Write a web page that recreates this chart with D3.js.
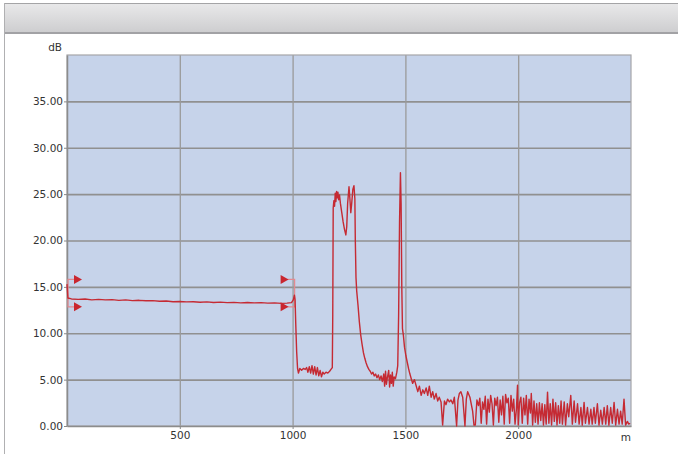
<!DOCTYPE html>
<html>
<head>
<meta charset="utf-8">
<script src="https://d3js.org/d3.v7.min.js"></script>
<style>
  body { margin: 0; background: #fff; }
  text { font-family: "DejaVu Sans", Verdana, sans-serif; }
</style>
</head>
<body>
<div id="trace_chart"></div>
<script>
// trace data: [distance m, loss dB]
var fiberRun = [[0,15.3],[4,13.8],[20,13.7],[50,13.65],[80,13.7],[110,13.6],[140,13.65],[170,13.6],[200,13.62],
  [230,13.55],[260,13.6],[290,13.52],[320,13.55],[350,13.5],[380,13.52],[410,13.45],[440,13.48],[470,13.4],
  [500,13.42],[530,13.38],[560,13.4],[590,13.35],[620,13.38],[650,13.32],[680,13.36],[710,13.3],[740,13.33],
  [770,13.28],[800,13.32],[830,13.27],[860,13.3],[890,13.25],[920,13.28],[950,13.22],[975,13.25],[995,13.3],
  [1003,13.6],[1008,14.1],[1011,13.6],[1014,11],[1018,8],[1022,6.2]]
var firstGap = [[1026,5.7],[1032,6.2],[1040,6.0],[1048,6.2],[1056,6.1],[1062,6.3],[1068,5.8],[1074,6.4],
  [1080,5.7],[1086,6.5],[1092,5.6],[1098,6.4],[1104,5.5],[1110,6.3],[1116,5.4],[1122,6.0],[1128,5.3],
  [1134,5.8],[1140,5.6],[1148,5.8],[1156,5.7],[1164,5.9],[1170,6.1],[1176,6.3]]
var firstPeak = [[1178,12],[1180,23.5],[1183,24.3],[1186,23.7],[1189,25.1],[1192,24.2],[1195,25.3],[1198,24.6],
  [1201,25.2],[1204,24.4],[1208,24.9],[1212,24.0],[1218,23.0],[1224,22.0],[1230,21.2],[1236,20.6],[1240,21.5],
  [1244,24.0],[1250,25.8],[1254,24.5],[1258,23.0],[1262,24.0],[1267,25.5],[1272,25.9],[1276,24.5],[1278,20],
  [1281,16],[1284,14.6],[1290,13.0],[1296,11.2],[1302,9.8],[1308,8.8],[1314,7.9],[1320,7.3],[1326,6.8],
  [1332,6.4],[1338,6.1],[1344,5.9]]
var secondGap = [[1350,5.6],[1356,5.8],[1362,5.4],[1368,5.6],[1374,5.2],[1380,5.5],[1386,5.0],[1392,5.4],
  [1398,4.8],[1404,5.6],[1408,4.3],[1412,5.9],[1416,4.5],[1420,5.2],[1426,6.0],[1430,4.2],[1434,5.5],
  [1438,4.6],[1442,5.8],[1446,4.3],[1450,5.3],[1456,5.1],[1462,5.8],[1466,6.5],[1470,12],[1474,22],
  [1478,27.3],[1481,24],[1484,15],[1487,10.5],[1491,9.8],[1496,8.5],[1502,7.6],[1508,6.9],[1514,6.2],
  [1520,5.6],[1526,5.1],[1532,4.6]]
var tailNoise = [[1540,5.0],[1547,4.4],[1555,3.7],[1562,4.3],[1570,3.3],[1577,3.9],[1584,3.5],[1592,4.1],
  [1599,3.3],[1606,4.3],[1614,3.1],[1621,3.7],[1628,2.9],[1636,3.5],[1643,2.7],[1650,3.1],[1658,2.6],
  [1665,0.1],[1673,2.7],[1680,2.3],[1687,2.9],[1695,2.6],[1702,2.8],[1710,2.4],[1717,3.1],[1727,0.0],
  [1733,2.8],[1739,3.5],[1746,3.7],[1754,3.1],[1764,0.0],[1770,2.9],[1776,3.7],[1786,3.1],[1798,1.6],
  [1804,0.1],[1810,0.1],[1817,2.8],[1824,2.2],[1830,3.0],[1836,0.3],[1842,2.6],[1848,1.8],[1854,3.2],
  [1860,0.2],[1866,2.9],[1872,1.5],[1878,3.3],[1884,2.4],[1890,0.1],[1896,3.0],[1902,2.2],[1908,3.1],
  [1914,0.4],[1920,2.8],[1926,1.2],[1932,3.2],[1938,0.2],[1944,3.4],[1950,2.5],[1956,3.0],[1962,0.3],
  [1968,3.3],[1974,1.6],[1980,2.9],[1986,0.2],[1992,1.8],[1997,4.4],[2000,0.1],[2006,2.5],[2012,3.1],
  [2018,0.3],[2024,3.0],[2030,1.2],[2036,3.3],[2042,0.2],[2048,2.9],[2054,1.4],[2058,3.5],[2064,0.1],
  [2070,2.7],[2076,0.4],[2082,2.4],[2088,0.2],[2094,2.5],[2100,0.6],[2106,2.4],[2112,0.1],[2118,2.3],
  [2124,0.2],[2130,3.65],[2136,0.3],[2142,2.4],[2148,0.1],[2154,2.9],[2160,0.5],[2166,2.5],[2172,0.1],
  [2178,2.2],[2184,0.3],[2190,2.7],[2196,0.2],[2204,2.6],[2210,0.1],[2218,2.4],[2224,1.0],[2233,3.3],
  [2240,0.2],[2248,2.7],[2254,0.4],[2263,2.4],[2270,0.2],[2278,2.0],[2284,0.1],[2292,2.55],[2298,0.3],
  [2307,2.0],[2314,0.2],[2322,1.8],[2328,0.2],[2336,2.0],[2342,0.3],[2351,2.4],[2358,0.1],[2366,1.7],
  [2373,0.2],[2381,2.0],[2388,0.2],[2395,2.2],[2402,0.1],[2410,2.0],[2417,0.3],[2425,2.55],[2432,0.1],
  [2440,1.8],[2447,0.2],[2454,1.6],[2461,0.2],[2469,2.9],[2476,0.1],[2484,0.5],[2490,0.2],[2496,0.3]]

// cursor markers: two positions, two levels each
var markerDistances = [0, 1009]
var markerLevels = [15.8, 12.85]

// axis ticks
var yTicks = [0, 5, 10, 15, 20, 25, 30, 35]
var xTicks = [500, 1000, 1500, 2000]

var trace = fiberRun.concat(firstGap, firstPeak, secondGap, tailNoise)

// set the dimensions and margins of the graph
var margin = {top: 55, right: 47, bottom: 28, left: 67},
  width = 564, height = 371;

var root = d3.select("#trace_chart")
.append("svg")
  .attr("width", 678)
  .attr("height", 454);

// header bar
var grad = root.append("defs").append("linearGradient")
  .attr("id", "hdr").attr("x1", 0).attr("y1", 0).attr("x2", 0).attr("y2", 1);
grad.append("stop").attr("offset", "0%").attr("stop-color", "#e9e9ea");
grad.append("stop").attr("offset", "100%").attr("stop-color", "#cdcdcf");

root.append("rect")
  .attr("x", 4).attr("y", 3).attr("width", 680).attr("height", 30)
  .attr("fill", "url(#hdr)");
root.append("line")
  .attr("x1", 4).attr("x2", 678).attr("y1", 3.5).attr("y2", 3.5)
  .attr("stroke", "#a4a4a6");
root.append("line")
  .attr("x1", 4).attr("x2", 678).attr("y1", 33).attr("y2", 33)
  .attr("stroke", "#a2a2a5").attr("stroke-width", 2);
root.append("line")
  .attr("x1", 4.5).attr("x2", 4.5).attr("y1", 3).attr("y2", 454)
  .attr("stroke", "#b0b0b2");

var svg = root.append("g")
  .attr("transform", "translate(" + margin.left + "," + margin.top + ")");

var x = d3.scaleLinear().domain([0, 2500]).range([0, width]);
var y = d3.scaleLinear().domain([0, 40]).range([height, 0]);

// plot background
svg.append("rect")
  .attr("width", width).attr("height", height)
  .attr("fill", "#c6d3ea");

// grid lines
svg.append("g")
  .call(d3.axisLeft(y).tickValues(yTicks.slice(1)).tickSize(-width).tickFormat(""))
  .call(function(g) { g.select(".domain").remove(); })
  .selectAll("line").attr("stroke", "#909090").attr("stroke-width", 1.7);
svg.append("g")
  .attr("transform", "translate(0," + height + ")")
  .call(d3.axisBottom(x).tickValues(xTicks).tickSize(height).tickSizeOuter(0).tickFormat(""))
  .call(function(g) { g.select(".domain").remove(); })
  .selectAll("line").attr("transform", "translate(0," + (-height) + ")")
  .attr("stroke", "#9a9a9a").attr("stroke-width", 1.3);

// frame
svg.append("rect")
  .attr("width", width).attr("height", height)
  .attr("fill", "none").attr("stroke", "#a6a6a8").attr("stroke-width", 1.2);

// Y axis
var yAxis = svg.append("g")
  .call(d3.axisLeft(y).tickValues(yTicks).tickSize(3).tickSizeOuter(0).tickFormat(d3.format(".2f")));
yAxis.select(".domain").attr("stroke", "#8c8c8c").attr("stroke-width", 1.5);
yAxis.selectAll("line").attr("stroke", "#888");
yAxis.selectAll("text").attr("fill", "#333").style("font-size", "10.5px").attr("x", -4);

// X axis
var xAxis = svg.append("g")
  .attr("transform", "translate(0," + height + ")")
  .call(d3.axisBottom(x).tickValues(xTicks).tickSize(3).tickSizeOuter(0).tickFormat(d3.format("d")));
xAxis.select(".domain").attr("stroke", "#8c8c8c").attr("stroke-width", 1.5);
xAxis.selectAll("line").attr("stroke", "#888");
xAxis.selectAll("text").attr("fill", "#333").style("font-size", "10.5px").attr("y", 6);

// unit labels
svg.append("text")
  .attr("text-anchor", "end")
  .attr("x", -5).attr("y", -4)
  .attr("fill", "#333").style("font-size", "10.5px")
  .text("dB");
svg.append("text")
  .attr("text-anchor", "end")
  .attr("x", width).attr("y", height + 15)
  .attr("fill", "#333").style("font-size", "10.5px")
  .text("m");

// cursor brackets and arrows
var markColor = "#c9262f";
markerDistances.forEach(function(d, i) {
  var dir = i === 0 ? 1 : -1;
  var bx = x(d) + (i === 0 ? 1 : 0);
  svg.append("path")
    .attr("d", "M" + (bx + dir * 7) + "," + y(markerLevels[0]) + "H" + bx + "V" + y(markerLevels[1]) + "H" + (bx + dir * 7))
    .attr("fill", "none").attr("stroke", "#e48a90").attr("stroke-width", 1.2);
  markerLevels.forEach(function(l) {
    var base = bx + dir * 6, tip = bx + dir * 14;
    svg.append("path")
      .attr("d", "M" + (i === 0 ? base : tip) + "," + (y(l) - 4.5) + "L" + (i === 0 ? tip : base) + "," + y(l) +
        "L" + (i === 0 ? base : tip) + "," + (y(l) + 4.5) + "Z")
      .attr("fill", markColor);
  });
});

// trace
svg.append("path")
  .datum(trace)
  .attr("fill", "none")
  .attr("stroke", "#c52a33")
  .attr("stroke-width", 1.4)
  .attr("stroke-linejoin", "round")
  .attr("d", d3.line()
    .x(function(d) { return x(d[0]); })
    .y(function(d) { return y(d[1]); }));
</script>
</body>
</html>
